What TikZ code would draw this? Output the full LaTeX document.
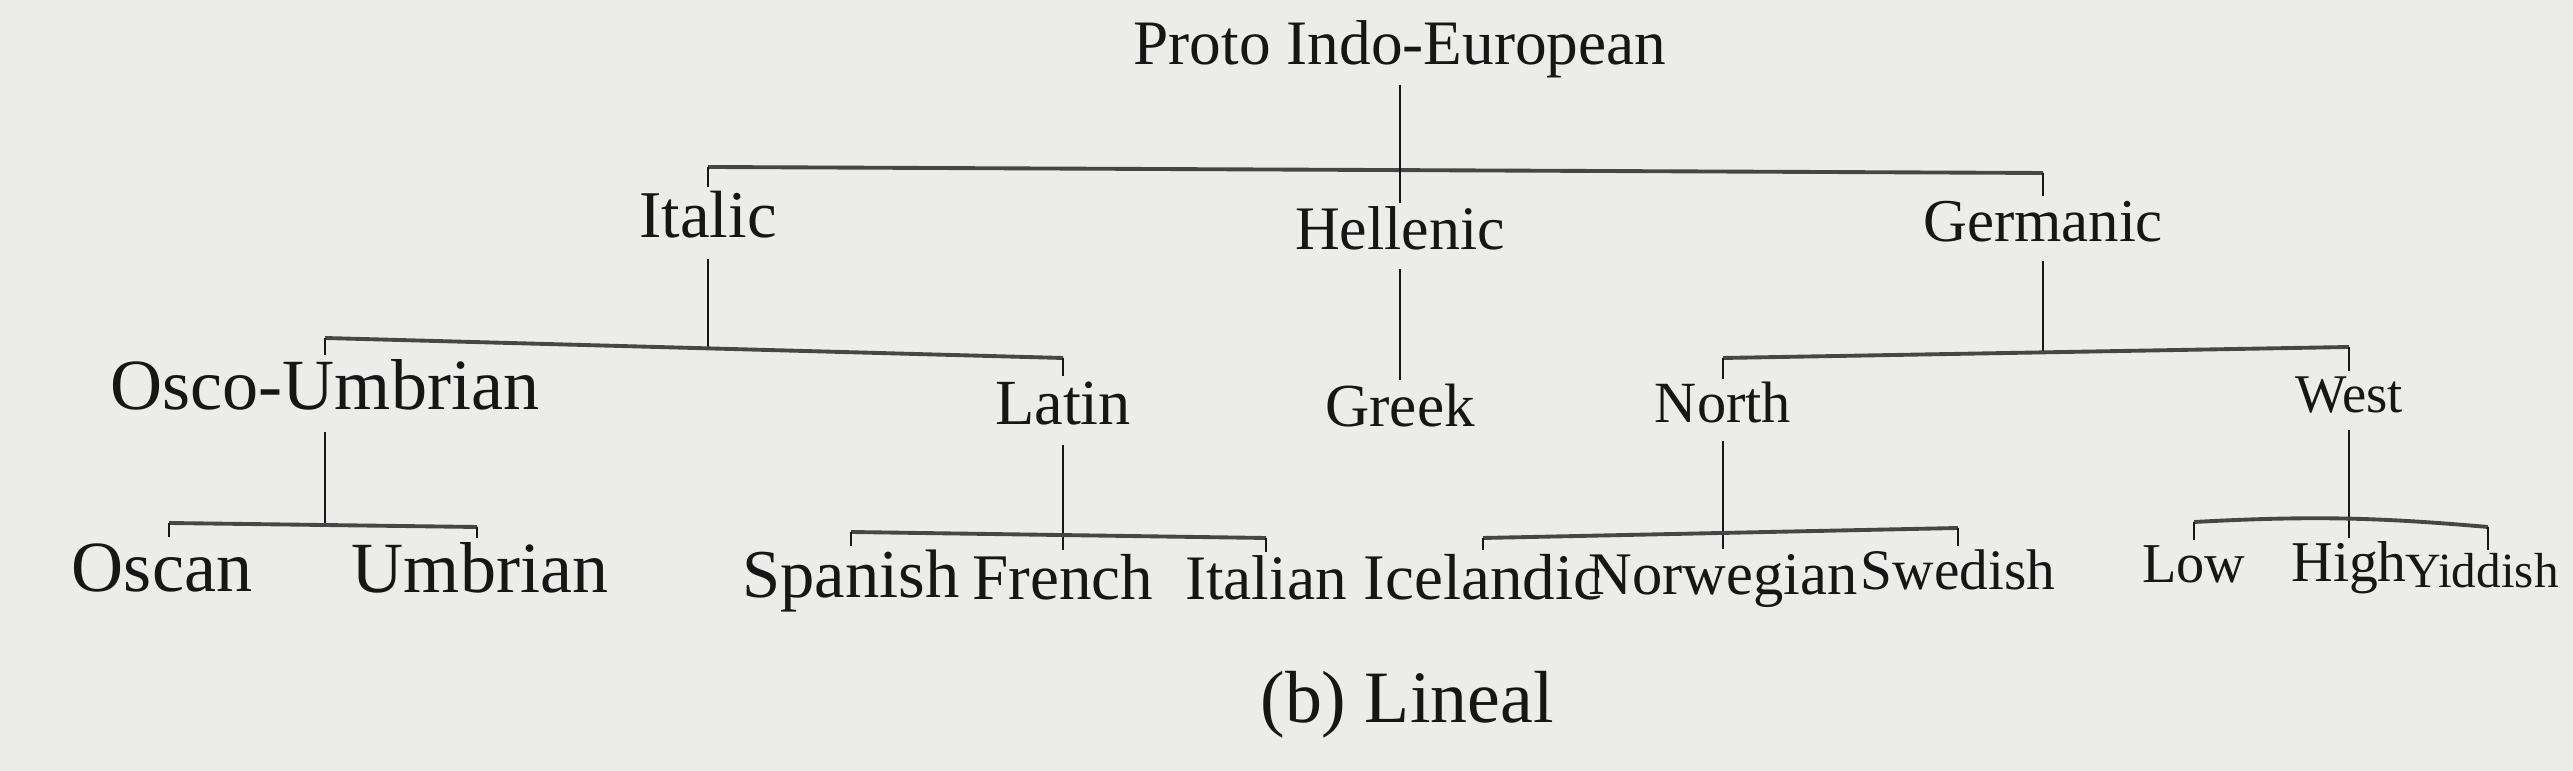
\documentclass[tikz,border=0pt]{standalone}
\usepackage{fontspec}
\setmainfont{Liberation Serif}
\definecolor{paper}{RGB}{236,236,234}
\definecolor{inkc}{RGB}{22,22,22}
\definecolor{barc}{RGB}{70,70,70}
\tikzset{
  lang/.style={inner sep=0pt, anchor=base,
    text height=\dimexpr #1pt*3/4\relax, text depth=\dimexpr #1pt*3/10\relax,
    font=\fontsize{#1}{#1}\selectfont, text=inkc},
  lang/.default=18,
  vstem/.style={draw=inkc, line width=0.6pt},
  hbar/.style={draw=barc, line width=1.1pt}
}
\begin{document}
\begin{tikzpicture}[x=0.01cm,y=-0.01cm]
\fill[paper] (0,0) rectangle (2573,771);
\useasboundingbox (0,0) rectangle (2573,771);

% languages
\node[lang=18]   (pie)       at (1400,65)  {Proto Indo-European};
\node[lang=19]   (italic)    at (708,238)  {Italic};
\node[lang=17.6] (hellenic)  at (1400,250) {Hellenic};
\node[lang=17.3] (germanic)  at (2043,242) {Germanic};
\node[lang=20.5] (osco)      at (325,410)  {Osco-Umbrian};
\node[lang=18.3] (latin)     at (1063,425) {Latin};
\node[lang=17.4] (greek)     at (1400,427) {Greek};
\node[lang=16.6] (north)     at (1723,423) {North};
\node[lang=15.5] (west)      at (2349,413) {West};
\node[lang=20.5] (oscan)     at (162,592)  {Oscan};
\node[lang=20.5] (umbrian)   at (480,593)  {Umbrian};
\node[lang=19.5] (spanish)   at (851,598)  {Spanish};
\node[lang=18.5] (french)    at (1063,600) {French};
\node[lang=18]   (italian)   at (1266,600) {Italian};
\node[lang=18.5] (icelandic) at (1483,600) {Icelandic};
\node[lang=17.2] (norwegian) at (1723,595) {Norwegian};
\node[lang=16.3] (swedish)   at (1958,590) {Swedish};
\node[lang=16]   (low)       at (2194,583) {Low};
\node[lang=16.4] (high)      at (2349,582) {High};
\node[lang=14]   (yiddish)   at (2482,588) {Yiddish};
\node[lang=21]   (caption)   at (1407,723) {(b) Lineal};

% bar ends and joints
\coordinate (pieL) at (708,167);
\coordinate (pieR) at (2043,173);
\coordinate (itL)  at (325,338);
\coordinate (itR)  at (1063,358);
\coordinate (itJ)  at (708,348);
\coordinate (geL)  at (1723,358);
\coordinate (geR)  at (2349,347);
\coordinate (geJ)  at (2043,352);
\coordinate (osL)  at (169,523);
\coordinate (osR)  at (477,527);
\coordinate (osJ)  at (325,525);
\coordinate (laL)  at (851,532);
\coordinate (laR)  at (1266,538);
\coordinate (noL)  at (1483,538);
\coordinate (noR)  at (1958,528);
\coordinate (weL)  at (2194,522);
\coordinate (weR)  at (2488,527);

% Proto Indo-European
\draw[hbar] (pieL) -- (pieR);
\draw[vstem] (pie.south) -- (hellenic.north);
\draw[vstem] (pieL) -- (italic.north);
\draw[vstem] (pieR) -- (germanic.north);

% Italic
\draw[vstem] (italic.south) -- (itJ);
\draw[hbar] (itL) -- (itR);
\draw[vstem] (itL) -- (osco.north);
\draw[vstem] (itR) -- (latin.north);

% Hellenic
\draw[vstem] (hellenic.south) -- (greek.north);

% Germanic
\draw[vstem] (germanic.south) -- (geJ);
\draw[hbar] (geL) -- (geR);
\draw[vstem] (geL) -- (north.north);
\draw[vstem] (geR) -- (west.north);

% Osco-Umbrian
\draw[vstem] (osco.south) -- (osJ);
\draw[hbar] (osL) -- (osR);
\draw[vstem] (osL) -- (osL |- oscan.north);
\draw[vstem] (osR) -- (osR |- umbrian.north);

% Latin
\draw[vstem] (latin.south) -- (french.north);
\draw[hbar] (laL) -- (laR);
\draw[vstem] (laL) -- (spanish.north);
\draw[vstem] (laR) -- (italian.north);

% North
\draw[vstem] (north.south) -- (norwegian.north);
\draw[hbar] (noL) -- (noR);
\draw[vstem] (noL) -- (icelandic.north);
\draw[vstem] (noR) -- (swedish.north);

% West
\draw[vstem] (west.south) -- (high.north);
\draw[hbar] (weL) to[bend left=4] (weR);
\draw[vstem] (weL) -- (low.north);
\draw[vstem] (weR) -- (weR |- yiddish.north);
\end{tikzpicture}
\end{document}
